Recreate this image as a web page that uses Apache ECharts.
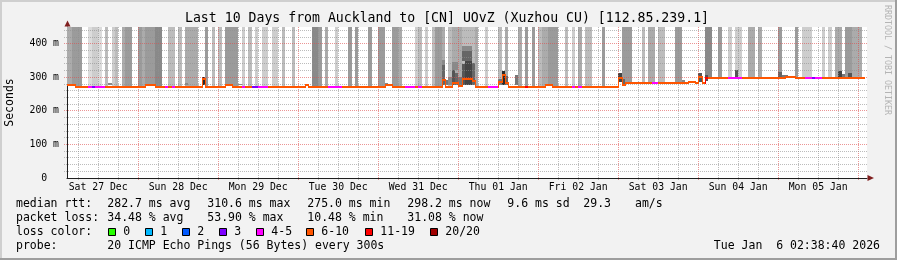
<!DOCTYPE html>
<html><head><meta charset="utf-8">
<script src="https://cdn.jsdelivr.net/npm/echarts@6/dist/echarts.min.js"></script>
<style>html,body{margin:0;padding:0;background:#f2f2f2}#c{width:897px;height:260px}</style>
</head><body><div id="c"></div>
<script>
// ---------- DATA (x = hours since Sat 27 Dec 00:00, y = milliseconds) ----------
const axisStartHour = 2.65, axisEndHour = 242.65;
const yMaxMs = 450;
const yTickMs = [0, 100, 200, 300, 400];
const dayLabelHours = [12, 36, 60, 84, 108, 132, 156, 180, 204, 228];
const dayLabels = ['Sat 27 Dec','Sun 28 Dec','Mon 29 Dec','Tue 30 Dec','Wed 31 Dec','Thu 01 Jan','Fri 02 Jan','Sat 03 Jan','Sun 04 Jan','Mon 05 Jan'];
const minorGridHours = [6,12,18,30,36,42,54,60,66,78,84,90,102,108,114,126,132,138,150,156,162,174,180,186,198,204,210,222,228,234];
const majorGridHours = [24,48,72,96,120,144,168,192,216,240];
const minorGridMs = [20,40,60,80,120,140,160,180,220,240,260,280,320,340,360,380,420,440];
const majorGridMs = [100,200,300,400];

// median rtt segments: start hour, value (ms), lost pings (of 20)
const medStart = [2.65,5,9,10,11,14,26,29,32,33,34,35,43,44,50,52,55,56,58,60,63,74,75,81,85,98,100,104,107,108,109,115,116,118,120,121,124,125,129,132,133,134,135,140,141,146,148,154,155,156,157,168,169,170,178,180,189,191,192,193,194,195,196,201,205,206,207,218,221,224,226,227,229];
const medEndHour = 242;
const medMs = [281,275,275,275,275,275,281,275,275,275,275,275,297,275,280,275,275,275,275,275,275,280,275,275,275,280,275,275,275,275,275,295,275,285,276,299,292,275,275,289,310,285,275,275,275,280,275,275,275,275,275,300,280,287,287,287,290,285,304,286,300,302,300,300,300,302,300,303,300,300,300,300,300];
const medLoss = [8,8,4,3,4,8,8,8,4,8,4,8,8,8,8,8,4,8,3,4,8,8,8,4,8,8,8,4,8,4,8,8,8,8,8,8,8,8,4,8,8,8,8,12,8,8,8,4,8,4,8,8,8,8,4,8,8,8,8,8,12,8,8,4,8,8,8,8,8,4,3,4,8];

// smoke stripes (pings above the plot top): from hour, to hour, density 1..6
const stripeFrom = [2.65,4,9,10,12,14,16,17,19,20,24,25,26,29,33,36,38,44,46,48,50,55,57,59,61,64,67,70,76,78,80,83,87,89,93,96,100,102,107,108,110,112,113,115,117,118,121,125,128,132,134,138,140,142,144,145,147,152,154,156,158,163,169,175,177,180,185,194,198,201,203,207,210,216,221,223,229,231,233,236,238];
const stripeTo   = [4,7,10,12,13,15,17,18,20,22,25,26,29,31,35,37,42,45,47,49,54,56,58,60,63,66,68,71,78,79,81,84,88,90,94,98,102,103,108,109,111,113,115,116,118,121,125,126,129,133,135,139,141,143,145,147,150,153,155,157,160,164,172,176,179,182,187,196,199,202,205,209,211,217,222,226,230,232,235,238,241];
const stripeDensity = [4,5,1,2,1,3,2,3,4,5,5,4,5,6,3,3,4,5,3,3,5,2,3,2,2,2,3,3,6,5,4,2,5,5,5,5,5,4,2,3,2,3,5,4,3,4,3,4,2,3,4,4,5,5,3,4,5,3,2,4,3,5,5,3,4,3,5,6,5,2,2,4,4,5,5,2,2,2,4,5,4];

// dense smoke blocks near the median: from, to, low ms, high ms, density 6..11
const blockFrom = [15,38,43,54,76,98,115,115,116,117,118,119,118,120,121,122,121,121,124,132,133,134,137,168,169,187,192,194,203,216,217,234,235,237];
const blockTo   = [16,39,44,55,77,99,116,116,117,118,119,120,120,121,122,124,124,124,125,133,134,135,138,169,170,188,193,195,204,217,219,235,236,238];
const blockLow  = [276,276,276,276,276,280,276,337,276,276,276,276,322,276,276,276,350,378,276,276,276,276,276,287,280,287,286,290,300,300,300,300,300,300];
const blockHigh = [283,282,302,280,282,284,337,352,292,300,322,312,345,302,340,350,378,392,343,296,318,304,307,312,296,292,312,306,322,315,308,320,310,313];
const blockDensity = [6,6,11,6,6,6,8,6,7,6,9,8,6,7,9,10,8,6,8,7,11,8,7,10,8,6,9,9,9,8,7,10,7,9];

// legend
const lossLabels = ['0','1','2','3','4-5','6-10','11-19','20/20'];
const lossColors = ['#26ff00','#00b8ff','#0059ff','#7e00ff','#ff00ff','#ff5500','#ff0000','#a10000'];
const rttStats = ['282.7 ms avg','310.6 ms max','275.0 ms min','298.2 ms now','9.6 ms sd','29.3','am/s'];
const lossStats = ['34.48 % avg','53.90 % max','10.48 % min','31.08 % now'];
const titleText = 'Last 10 Days from Auckland to [CN] UOvZ (Xuzhou CU) [112.85.239.1]';
const probeText = '20 ICMP Echo Pings (56 Bytes) every 300s';
const dateText = 'Tue Jan  6 02:38:40 2026';

// ---------- helpers ----------
const MONO = '"DejaVu Sans Mono", monospace';
function lossColor(n){
  if (n <= 0) return lossColors[0];
  if (n === 1) return lossColors[1];
  if (n === 2) return lossColors[2];
  if (n === 3) return lossColors[3];
  if (n <= 5) return lossColors[4];
  if (n <= 10) return lossColors[5];
  if (n <= 19) return lossColors[6];
  return lossColors[7];
}
const shades = {1:'#dcdcdc',2:'#cdcdcd',3:'#bcbcbc',4:'#ababab',5:'#9b9b9b',6:'#898989',7:'#777777',8:'#666666',9:'#555555',10:'#444444',11:'#2a2a2a'};
function medEnd(i){ return i + 1 < medStart.length ? medStart[i+1] : medEndHour; }
function medianFloor(a, b){
  let m = Infinity;
  for (let i = 0; i < medStart.length; i++) if (medStart[i] < b && medEnd(i) > a) m = Math.min(m, medMs[i]);
  return m === Infinity ? 275 : m;
}
function rectFromData(api, x0, x1, y0, y1, fill){
  const a = api.coord([x0, y1]), b = api.coord([x1, y0]);
  const L = Math.round(a[0]), R = Math.round(b[0]), T = Math.round(a[1]), B = Math.round(b[1]);
  return {type:'rect', shape:{x:L, y:T, width:R-L, height:B-T}, style:{fill}};
}

const stripeData = stripeFrom.map((f,i) => [f, stripeTo[i], medianFloor(f, stripeTo[i]), yMaxMs, stripeDensity[i]]);
const blockData = blockFrom.map((f,i) => [f, blockTo[i], blockLow[i], blockHigh[i], blockDensity[i]]);
const medData = medStart.map((s,i) => [s, medEnd(i), medMs[i], medLoss[i], i > 0 ? medMs[i-1] : medMs[i]]);
const gridData = [];
minorGridHours.forEach(h => gridData.push([h, 0, 0]));
majorGridHours.forEach(h => gridData.push([h, 0, 1]));
minorGridMs.forEach(v => gridData.push([v, 1, 0]));
majorGridMs.forEach(v => gridData.push([v, 1, 1]));

// ---------- chart ----------
const chart = echarts.init(document.getElementById('c'), null, {renderer:'canvas'});
function txt(x, y, s, extra){
  return Object.assign({type:'text', x, y, silent:true, z:100,
    style:Object.assign({text:s, font:'11.5px ' + MONO, fill:'#000', textVerticalAlign:'middle', verticalAlign:'middle', textAlign:'left', align:'left'}, (extra||{}))}, {});
}
const graphics = [];
// frame
graphics.push({type:'rect', shape:{x:0,y:0,width:897,height:2}, style:{fill:'#cfcfcf'}, silent:true});
graphics.push({type:'rect', shape:{x:0,y:0,width:2,height:260}, style:{fill:'#cfcfcf'}, silent:true});
graphics.push({type:'rect', shape:{x:0,y:258,width:897,height:2}, style:{fill:'#9e9e9e'}, silent:true});
graphics.push({type:'rect', shape:{x:895,y:0,width:2,height:260}, style:{fill:'#9e9e9e'}, silent:true});
// title
graphics.push(txt(447, 19, titleText, {font:'13.2px ' + MONO, textAlign:'center', align:'center'}));
// y name
graphics.push({type:'text', x:10, y:102.5, rotation:Math.PI/2, silent:true,
  style:{text:'Seconds', font:'11.5px ' + MONO, fill:'#000', textAlign:'center', align:'center', textVerticalAlign:'middle', verticalAlign:'middle'}});
// watermark
graphics.push({type:'text', x:887, y:60, rotation:-Math.PI/2, silent:true,
  style:{text:'RRDTOOL / TOBI OETIKER', font:'8.3px ' + MONO, fill:'#b4b4b4', textAlign:'center', align:'center', textVerticalAlign:'middle', verticalAlign:'middle'}});
// arrows
graphics.push({type:'polygon', shape:{points:[[64.5,26.5],[70.5,26.5],[67.5,20.5]]}, style:{fill:'#801f1f'}, silent:true, z:100});
graphics.push({type:'polygon', shape:{points:[[867.5,175],[867.5,181],[874,178]]}, style:{fill:'#801f1f'}, silent:true, z:100});
// legend rows
const statCols = [107.3, 207.3, 307.3, 407.3, 507.3, 583.3, 635];
graphics.push(txt(16, 204, 'median rtt:'));
rttStats.forEach((s,i) => graphics.push(txt(statCols[i], 204, s)));
graphics.push(txt(16, 218.3, 'packet loss:'));
lossStats.forEach((s,i) => graphics.push(txt(statCols[i], 218.3, s)));
graphics.push(txt(16, 232.3, 'loss color:'));
const boxX = [108.5, 145.5, 182.5, 219.5, 256.5, 306.5, 365.5, 430.5];
lossLabels.forEach((s,i) => {
  graphics.push({type:'rect', shape:{x:boxX[i], y:228.5, width:7, height:7}, style:{fill:lossColors[i], stroke:'#000', lineWidth:1}, silent:true, z:100});
  graphics.push(txt(boxX[i] + 14.8, 232.3, s));
});
graphics.push(txt(16, 246, 'probe:'));
graphics.push(txt(107.3, 246, probeText));
graphics.push(txt(880, 246, dateText, {textAlign:'right', align:'right'}));

const option = {
  animation:false,
  backgroundColor:'#f2f2f2',
  grid:{left:67, right:30, top:27, bottom:82, show:true, backgroundColor:'#ffffff', borderWidth:0, containLabel:false},
  xAxis:{
    type:'value', min:axisStartHour, max:axisEndHour,
    axisLine:{show:true, lineStyle:{color:'#1f1f1f', width:1}},
    axisTick:{show:false},
    splitLine:{show:false},
    axisLabel:{show:true, customValues:dayLabelHours, margin:4, color:'#000', fontFamily:MONO, fontSize:9.8,
      formatter:v => { const k = dayLabelHours.indexOf(Math.round(v)); return k >= 0 ? dayLabels[k] : ''; }}
  },
  yAxis:{
    type:'value', min:0, max:yMaxMs, interval:100,
    axisLine:{show:true, lineStyle:{color:'#1f1f1f', width:1}},
    axisTick:{show:false},
    splitLine:{show:false},
    axisLabel:{show:true, margin:8, color:'#000', fontFamily:MONO, fontSize:9.8, showMaxLabel:false,
      formatter:v => (yTickMs.indexOf(v) < 0 ? '' : (v === 0 ? '0  ' : v + ' m'))}
  },
  graphic:{elements:graphics},
  series:[
    { // smoke stripes
      type:'custom', z:2, clip:true, silent:true,
      data:stripeData, encode:{x:[0,1], y:[2,3]},
      renderItem:(p, api) => rectFromData(api, api.value(0), api.value(1), api.value(2), api.value(3), shades[api.value(4)])
    },
    { // dense smoke
      type:'custom', z:3, clip:true, silent:true,
      data:blockData, encode:{x:[0,1], y:[2,3]},
      renderItem:(p, api) => rectFromData(api, api.value(0), api.value(1), api.value(2), api.value(3), shades[api.value(4)])
    },
    { // median rtt
      type:'custom', z:5, clip:true, silent:true,
      data:medData, encode:{x:[0,1], y:2},
      renderItem:(p, api) => {
        const a = api.coord([api.value(0), api.value(2)]);
        const b = api.coord([api.value(1), api.value(2)]);
        const prev = api.coord([api.value(0), api.value(4)]);
        const col = lossColor(api.value(3));
        const L = Math.round(a[0]), R = Math.round(b[0]), Y = Math.round(a[1]), PY = Math.round(prev[1]);
        const kids = [{type:'rect', shape:{x:L, y:Y, width:R-L, height:2}, style:{fill:col}}];
        if (PY !== Y) kids.push({type:'rect', shape:{x:L, y:Math.min(PY,Y), width:1, height:Math.abs(PY-Y)+2}, style:{fill:col}});
        return {type:'group', children:kids};
      }
    },
    { // grid lines on top (as rrdtool)
      type:'custom', z:4, clip:false, silent:true,
      data:gridData, encode:{x:0},
      renderItem:(p, api) => {
        const cs = p.coordSys;
        const v = api.value(0), horiz = api.value(1) === 1, major = api.value(2) === 1;
        const color = major ? 'rgba(222,79,79,0.6)' : 'rgba(143,143,143,0.6)';
        if (horiz) {
          const y = Math.floor(api.coord([axisStartHour, v])[1]) + 0.5;
          return {type:'line', shape:{x1:cs.x - 3, y1:y, x2:cs.x + cs.width, y2:y}, style:{stroke:color, lineWidth:1, lineDash:[1,1]}};
        }
        const x = Math.floor(api.coord([v, 0])[0]) + 0.5;
        return {type:'line', shape:{x1:x, y1:cs.y, x2:x, y2:cs.y + cs.height + (major ? 3 : 2)}, style:{stroke:color, lineWidth:1, lineDash:[1,1]}};
      }
    }
  ]
};
chart.setOption(option);
</script>
</body></html>
